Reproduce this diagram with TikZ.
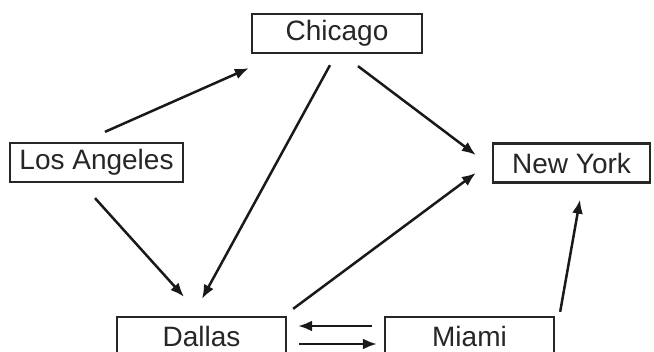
\documentclass[tikz,border=0pt]{standalone}
\usepackage{fontspec}
\setmainfont{Liberation Sans}
\usetikzlibrary{arrows.meta}
\begin{document}
\begin{tikzpicture}[x=1pt,y=-1pt,
  city/.style={draw=black!85,line width=2.3pt,inner sep=0pt,minimum height=39pt,
    font=\fontsize{28}{28}\selectfont,text=black!85},
  link/.style={line width=2.5pt,draw=black!90,-{Latex[length=14pt,width=11pt]}}]
\useasboundingbox[fill=white] (0,0) rectangle (654,352);
\node[city,minimum width=170pt] (chi) at (337,33.5) {Chicago};
\node[city,minimum width=173pt] (la) at (96.5,162.5) {Los Angeles};
\node[city,minimum width=157pt] (ny) at (571.5,163) {New York};
\node[city,minimum width=169pt] (dal) at (201.5,336.5) {Dallas};
\node[city,minimum width=169pt] (mia) at (469.5,336.5) {Miami};
\draw[link] ([shift={(8.5,-10)}]la.north) -- ([shift={(-2,14)}]chi.south west);
\draw[link] ([shift={(-7,11)}]chi.south) -- ([shift={(0.5,-17)}]dal.north);
\draw[link] ([shift={(-1.5,15)}]la.south) -- ([shift={(-17.5,-19)}]dal.north);
\draw[link] ([shift={(21,12)}]chi.south) -- ([shift={(-16,-8)}]ny.west);
\draw[link] ([shift={(6,-7)}]dal.north east) -- ([shift={(-16,10)}]ny.west);
\draw[link] ([shift={(5,-4)}]mia.north east) -- ([shift={(8.5,16)}]ny.south);
\draw[link] ([shift={(-12,-10.5)}]mia.west) -- ([shift={(11,-10.5)}]dal.east);
\draw[link] ([shift={(12,7.5)}]dal.east) -- ([shift={(-7,7.5)}]mia.west);
\end{tikzpicture}
\end{document}
